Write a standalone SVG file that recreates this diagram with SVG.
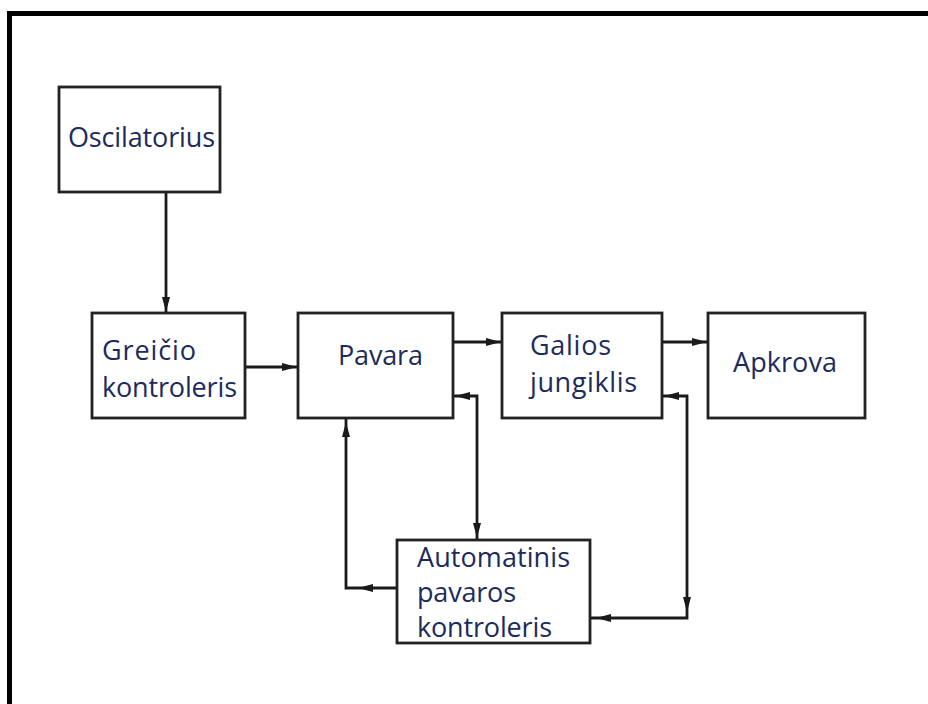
<svg xmlns="http://www.w3.org/2000/svg" xmlns:xlink="http://www.w3.org/1999/xlink" width="928" height="704" viewBox="0 0 928 704">
<style>
.box{fill:#fff;stroke:#222;stroke-width:2.8}
.lbl{font-family:"Open Sans","Noto Sans","Liberation Sans",sans-serif;font-size:27px;fill:#1c2b5c}
.con{fill:none;stroke:#1a1a1a;stroke-width:2.8}
.ah{fill:#1a1a1a}
</style>
<defs>
<path id="ah" d="M0,0 L-15,-4 L-15,4 Z"/>
</defs>
<rect width="928" height="704" fill="#fff"/>
<g id="frame">
<path d="M7,13.5 H928 M9.5,11 V704" fill="none" stroke="#000" stroke-width="5"/>
</g>
<g id="connectors">
<path class="con" d="M166,192 V313"/>
<path class="con" d="M245,367 H298"/>
<path class="con" d="M453,342 H502"/>
<path class="con" d="M662,342 H708"/>
<path class="con" d="M453,396 H477 V540"/>
<path class="con" d="M662,396 H687 V618 H590"/>
<path class="con" d="M397,588 H346 V418"/>
<g class="ah">
<use xlink:href="#ah" transform="translate(166,312) rotate(90)"/>
<use xlink:href="#ah" transform="translate(297,367)"/>
<use xlink:href="#ah" transform="translate(501,342)"/>
<use xlink:href="#ah" transform="translate(707,342)"/>
<use xlink:href="#ah" transform="translate(455,396) rotate(180)"/>
<use xlink:href="#ah" transform="translate(477,538) rotate(90)"/>
<use xlink:href="#ah" transform="translate(664,396) rotate(180)"/>
<use xlink:href="#ah" transform="translate(687,612) rotate(90)"/>
<use xlink:href="#ah" transform="translate(596,618) rotate(180)"/>
<use xlink:href="#ah" transform="translate(358,588) rotate(180)"/>
<use xlink:href="#ah" transform="translate(346,422) rotate(-90)"/>
</g>
</g>
<g id="oscilatorius">
<rect class="box" x="59" y="87" width="161" height="105"/>
<text class="lbl" x="68" y="147" textLength="147">Oscilatorius</text>
</g>
<g id="greicio">
<rect class="box" x="92" y="313" width="153" height="105"/>
<text class="lbl" x="102" y="360" textLength="94">Greičio</text>
<text class="lbl" x="102" y="397" textLength="135">kontroleris</text>
</g>
<g id="pavara">
<rect class="box" x="298" y="313" width="155" height="105"/>
<text class="lbl" x="338" y="365" textLength="85">Pavara</text>
</g>
<g id="galios">
<rect class="box" x="502" y="313" width="160" height="105"/>
<text class="lbl" x="530" y="355" textLength="81">Galios</text>
<text class="lbl" x="530" y="392" textLength="107">jungiklis</text>
</g>
<g id="apkrova">
<rect class="box" x="708" y="313" width="157" height="105"/>
<text class="lbl" x="733" y="372" textLength="104">Apkrova</text>
</g>
<g id="automatinis">
<rect class="box" x="397" y="540" width="193" height="103"/>
<text class="lbl" x="417" y="567" textLength="153">Automatinis</text>
<text class="lbl" x="417" y="602" textLength="99">pavaros</text>
<text class="lbl" x="417" y="637" textLength="135">kontroleris</text>
</g>
</svg>
